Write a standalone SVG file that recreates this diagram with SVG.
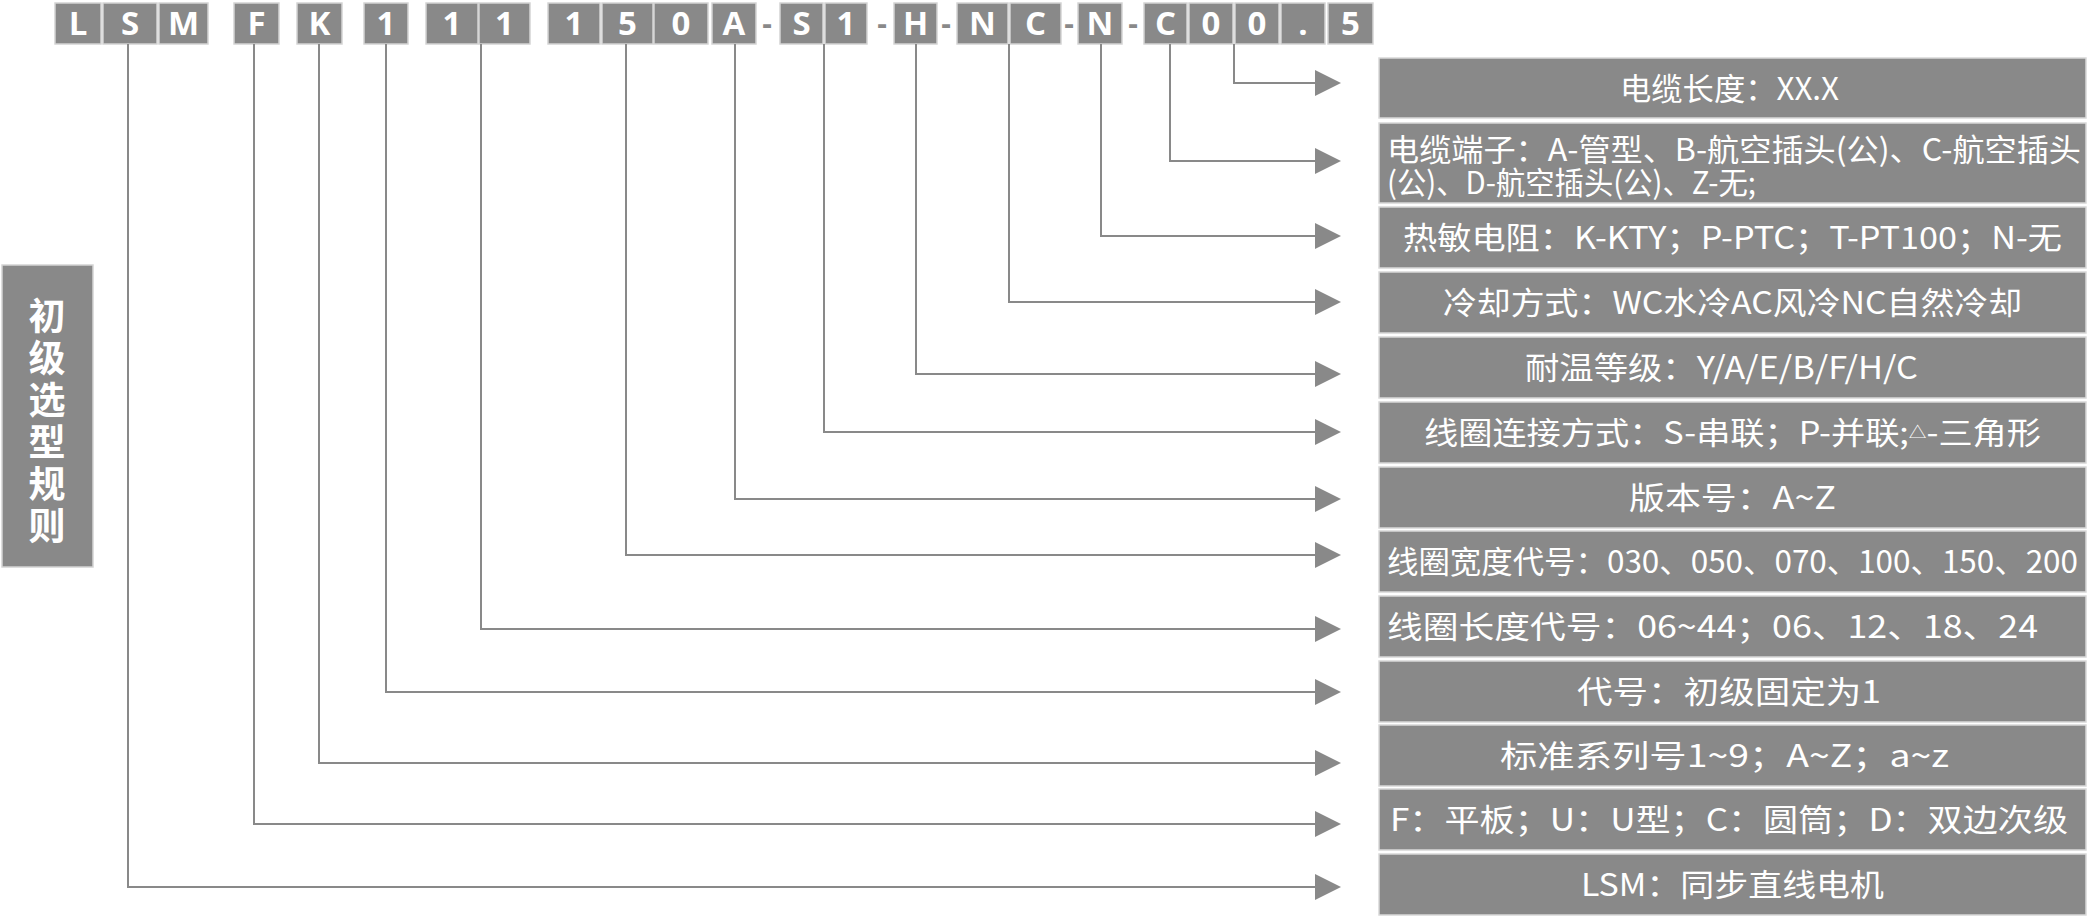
<svg xmlns="http://www.w3.org/2000/svg" width="2089" height="917" viewBox="0 0 2089 917">
<style>
.bx{fill:#898989;stroke:#d4d4d4;stroke-width:1.5}
.tb{fill:#fff;font-family:"Open Sans","Noto Sans",sans-serif;font-weight:700;font-size:33px;text-anchor:middle}
.ds{fill:#898989;font-family:"Open Sans","Noto Sans",sans-serif;font-weight:700;font-size:30px;text-anchor:middle}
.rb{fill:#898989;stroke:#d8d8d8;stroke-width:1.5}
.rt{fill:#fff;font-family:"Noto Sans CJK SC","Noto Sans",sans-serif;font-size:31px}
.ln{fill:none;stroke:#898989;stroke-width:2}
.lt{fill:#fff;font-family:"Noto Sans CJK SC",sans-serif;font-weight:700;font-size:37px;text-anchor:middle}
</style>
<defs>
<marker id="ah" markerUnits="userSpaceOnUse" markerWidth="28" markerHeight="28" refX="0" refY="13" orient="auto">
<path d="M0,0 L26,13 L0,26 Z" fill="#898989"/>
</marker>
</defs>
<rect width="2089" height="917" fill="#fff"/>

<g id="code">
<rect class="bx" x="55" y="3" width="46" height="41"/><text class="tb" x="78" y="35">L</text>
<rect class="bx" x="103" y="3" width="54" height="41"/><text class="tb" x="130" y="35">S</text>
<rect class="bx" x="159" y="3" width="49" height="41"/><text class="tb" x="183.5" y="35">M</text>
<rect class="bx" x="234" y="3" width="45" height="41"/><text class="tb" x="256.5" y="35">F</text>
<rect class="bx" x="297" y="3" width="45" height="41"/><text class="tb" x="319.5" y="35">K</text>
<rect class="bx" x="364" y="3" width="44" height="41"/><text class="tb" x="386" y="35">1</text>
<rect class="bx" x="426" y="3" width="52" height="41"/><text class="tb" x="452" y="35">1</text>
<rect class="bx" x="479" y="3" width="51" height="41"/><text class="tb" x="504.5" y="35">1</text>
<rect class="bx" x="548" y="3" width="52" height="41"/><text class="tb" x="574" y="35">1</text>
<rect class="bx" x="602" y="3" width="51" height="41"/><text class="tb" x="627.5" y="35">5</text>
<rect class="bx" x="654" y="3" width="54" height="41"/><text class="tb" x="681" y="35">0</text>
<rect class="bx" x="712" y="3" width="44" height="41"/><text class="tb" x="734" y="35">A</text>
<text class="ds" x="767" y="34">-</text>
<rect class="bx" x="780" y="3" width="43" height="41"/><text class="tb" x="801.5" y="35">S</text>
<rect class="bx" x="825" y="3" width="42" height="41"/><text class="tb" x="846" y="35">1</text>
<text class="ds" x="882" y="34">-</text>
<rect class="bx" x="894" y="3" width="43" height="41"/><text class="tb" x="915.5" y="35">H</text>
<text class="ds" x="946" y="34">-</text>
<rect class="bx" x="957" y="3" width="51" height="41"/><text class="tb" x="982.5" y="35">N</text>
<rect class="bx" x="1010" y="3" width="51" height="41"/><text class="tb" x="1035.5" y="35">C</text>
<text class="ds" x="1069" y="34">-</text>
<rect class="bx" x="1078" y="3" width="44" height="41"/><text class="tb" x="1100" y="35">N</text>
<text class="ds" x="1133" y="34">-</text>
<rect class="bx" x="1144" y="3" width="43" height="41"/><text class="tb" x="1165.5" y="35">C</text>
<rect class="bx" x="1189" y="3" width="44" height="41"/><text class="tb" x="1211" y="35">0</text>
<rect class="bx" x="1235" y="3" width="44" height="41"/><text class="tb" x="1257" y="35">0</text>
<rect class="bx" x="1281" y="3" width="44" height="41"/><text class="tb" x="1303" y="35">.</text>
<rect class="bx" x="1328" y="3" width="45" height="41"/><text class="tb" x="1350.5" y="35">5</text>
</g>

<g id="title">
<rect class="bx" x="2" y="265" width="91" height="302"/>
<text class="lt" x="47" y="330"><tspan x="47">初</tspan><tspan x="47" dy="42">级</tspan><tspan x="47" dy="42">选</tspan><tspan x="47" dy="42">型</tspan><tspan x="47" dy="42">规</tspan><tspan x="47" dy="42">则</tspan></text>
</g>

<g id="connectors">
<polyline class="ln" marker-end="url(#ah)" points="1234,44 1234,83 1315,83"/>
<polyline class="ln" marker-end="url(#ah)" points="1170,44 1170,161 1315,161"/>
<polyline class="ln" marker-end="url(#ah)" points="1101,44 1101,236 1315,236"/>
<polyline class="ln" marker-end="url(#ah)" points="1009,44 1009,302 1315,302"/>
<polyline class="ln" marker-end="url(#ah)" points="916,44 916,374 1315,374"/>
<polyline class="ln" marker-end="url(#ah)" points="824,44 824,432 1315,432"/>
<polyline class="ln" marker-end="url(#ah)" points="735,44 735,499 1315,499"/>
<polyline class="ln" marker-end="url(#ah)" points="626,44 626,555 1315,555"/>
<polyline class="ln" marker-end="url(#ah)" points="481,44 481,629 1315,629"/>
<polyline class="ln" marker-end="url(#ah)" points="386,44 386,692 1315,692"/>
<polyline class="ln" marker-end="url(#ah)" points="319,44 319,763 1315,763"/>
<polyline class="ln" marker-end="url(#ah)" points="254,44 254,824 1315,824"/>
<polyline class="ln" marker-end="url(#ah)" points="128,44 128,887 1315,887"/>
</g>

<g id="r1"><rect class="rb" x="1379" y="58" width="707" height="60"/><text class="rt" x="1620" y="100" textLength="219" lengthAdjust="spacingAndGlyphs">电缆长度：XX.X</text></g>
<g id="r2"><rect class="rb" x="1379" y="123" width="707" height="80"/>
<text class="rt" x="1387" y="161"><tspan x="1387" textLength="694" lengthAdjust="spacingAndGlyphs">电缆端子：A-管型、B-航空插头(公)、C-航空插头</tspan><tspan x="1387" dy="33" textLength="369" lengthAdjust="spacingAndGlyphs">(公)、D-航空插头(公)、Z-无;</tspan></text></g>
<g id="r3"><rect class="rb" x="1379" y="207" width="707" height="61"/><text class="rt" x="1403" y="249" textLength="659" lengthAdjust="spacingAndGlyphs">热敏电阻：K-KTY；P-PTC；T-PT100；N-无</text></g>
<g id="r4"><rect class="rb" x="1379" y="272" width="707" height="61"/><text class="rt" x="1443" y="314" textLength="579" lengthAdjust="spacingAndGlyphs">冷却方式：WC水冷AC风冷NC自然冷却</text></g>
<g id="r5"><rect class="rb" x="1379" y="337" width="707" height="61"/><text class="rt" x="1525" y="379" textLength="393" lengthAdjust="spacingAndGlyphs">耐温等级：Y/A/E/B/F/H/C</text></g>
<g id="r6"><rect class="rb" x="1379" y="402" width="707" height="61"/><text class="rt" x="1424" y="444" textLength="617" lengthAdjust="spacingAndGlyphs">线圈连接方式：S-串联；P-并联;<tspan font-size="16" dy="-6">△</tspan><tspan dy="6">-三角形</tspan></text></g>
<g id="r7"><rect class="rb" x="1379" y="467" width="707" height="61"/><text class="rt" x="1629" y="509" textLength="207" lengthAdjust="spacingAndGlyphs">版本号：A~Z</text></g>
<g id="r8"><rect class="rb" x="1379" y="531" width="707" height="61"/><text class="rt" x="1387" y="573" textLength="691" lengthAdjust="spacingAndGlyphs">线圈宽度代号：030、050、070、100、150、200</text></g>
<g id="r9"><rect class="rb" x="1379" y="596" width="707" height="61"/><text class="rt" x="1387" y="638" textLength="651" lengthAdjust="spacingAndGlyphs">线圈长度代号：06~44；06、12、18、24</text></g>
<g id="r10"><rect class="rb" x="1379" y="661" width="707" height="61"/><text class="rt" x="1577" y="703" textLength="304" lengthAdjust="spacingAndGlyphs">代号：初级固定为1</text></g>
<g id="r11"><rect class="rb" x="1379" y="725" width="707" height="61"/><text class="rt" x="1500" y="767" textLength="449" lengthAdjust="spacingAndGlyphs">标准系列号1~9；A~Z；a~z</text></g>
<g id="r12"><rect class="rb" x="1379" y="789" width="707" height="61"/><text class="rt" x="1390" y="831" textLength="678" lengthAdjust="spacingAndGlyphs">F：平板；U：U型；C：圆筒；D：双边次级</text></g>
<g id="r13"><rect class="rb" x="1379" y="854" width="707" height="61"/><text class="rt" x="1581" y="896" textLength="303" lengthAdjust="spacingAndGlyphs">LSM：同步直线电机</text></g>
</svg>
